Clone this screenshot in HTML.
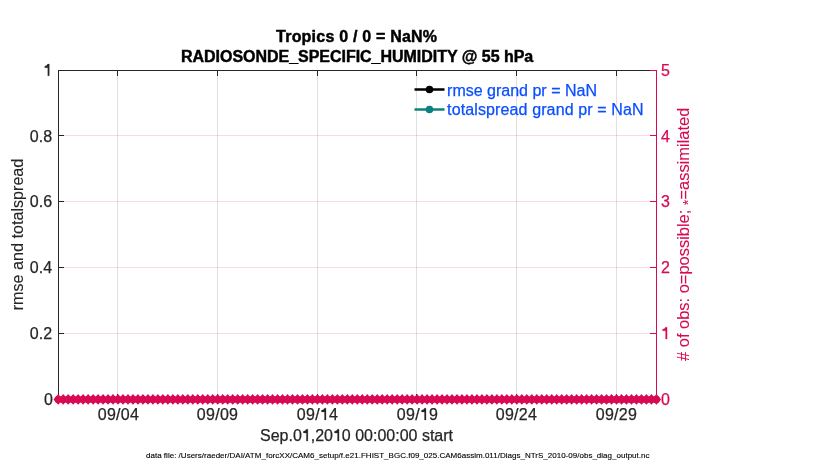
<!DOCTYPE html>
<html><head><meta charset="utf-8"><style>
html,body{margin:0;padding:0;background:#fff;width:830px;height:470px;overflow:hidden}
svg{display:block;will-change:transform}
text{font-family:"Liberation Sans", sans-serif;}
.h1{fill:transparent;stroke:transparent}
</style></head><body>
<svg width="830" height="470" viewBox="0 0 830 470">
<rect x="0" y="0" width="830" height="470" fill="#fff"/>

<line x1="117.5" y1="70" x2="117.5" y2="399" stroke="rgba(38,38,38,0.15)" stroke-width="1"/>
<line x1="217.5" y1="70" x2="217.5" y2="399" stroke="rgba(38,38,38,0.15)" stroke-width="1"/>
<line x1="317.5" y1="70" x2="317.5" y2="399" stroke="rgba(38,38,38,0.15)" stroke-width="1"/>
<line x1="416.5" y1="70" x2="416.5" y2="399" stroke="rgba(38,38,38,0.15)" stroke-width="1"/>
<line x1="516.5" y1="70" x2="516.5" y2="399" stroke="rgba(38,38,38,0.15)" stroke-width="1"/>
<line x1="616.5" y1="70" x2="616.5" y2="399" stroke="rgba(38,38,38,0.15)" stroke-width="1"/>
<line x1="58" y1="333.5" x2="656" y2="333.5" stroke="rgba(215,10,83,0.15)" stroke-width="1"/>
<line x1="58" y1="267.5" x2="656" y2="267.5" stroke="rgba(215,10,83,0.15)" stroke-width="1"/>
<line x1="58" y1="201.5" x2="656" y2="201.5" stroke="rgba(215,10,83,0.15)" stroke-width="1"/>
<line x1="58" y1="135.5" x2="656" y2="135.5" stroke="rgba(215,10,83,0.15)" stroke-width="1"/>
<line x1="58.5" y1="70" x2="58.5" y2="399.5" stroke="#262626" stroke-width="1"/>
<line x1="58" y1="70.5" x2="650" y2="70.5" stroke="#262626" stroke-width="1"/>
<line x1="58" y1="399.5" x2="656" y2="399.5" stroke="#262626" stroke-width="1"/>
<line x1="650" y1="70.5" x2="657" y2="70.5" stroke="#D70A53" stroke-width="1"/>
<line x1="656.5" y1="70" x2="656.5" y2="399.5" stroke="#D70A53" stroke-width="1"/>
<line x1="117.5" y1="70" x2="117.5" y2="76" stroke="#262626" stroke-width="1"/>
<line x1="117.5" y1="394" x2="117.5" y2="399" stroke="#262626" stroke-width="1"/>
<line x1="217.5" y1="70" x2="217.5" y2="76" stroke="#262626" stroke-width="1"/>
<line x1="217.5" y1="394" x2="217.5" y2="399" stroke="#262626" stroke-width="1"/>
<line x1="317.5" y1="70" x2="317.5" y2="76" stroke="#262626" stroke-width="1"/>
<line x1="317.5" y1="394" x2="317.5" y2="399" stroke="#262626" stroke-width="1"/>
<line x1="416.5" y1="70" x2="416.5" y2="76" stroke="#262626" stroke-width="1"/>
<line x1="416.5" y1="394" x2="416.5" y2="399" stroke="#262626" stroke-width="1"/>
<line x1="516.5" y1="70" x2="516.5" y2="76" stroke="#262626" stroke-width="1"/>
<line x1="516.5" y1="394" x2="516.5" y2="399" stroke="#262626" stroke-width="1"/>
<line x1="616.5" y1="70" x2="616.5" y2="76" stroke="#262626" stroke-width="1"/>
<line x1="616.5" y1="394" x2="616.5" y2="399" stroke="#262626" stroke-width="1"/>
<line x1="58" y1="333.5" x2="64" y2="333.5" stroke="#3A1428" stroke-width="1"/>
<line x1="58" y1="267.5" x2="64" y2="267.5" stroke="#3A1428" stroke-width="1"/>
<line x1="58" y1="201.5" x2="64" y2="201.5" stroke="#3A1428" stroke-width="1"/>
<line x1="58" y1="135.5" x2="64" y2="135.5" stroke="#3A1428" stroke-width="1"/>
<line x1="650" y1="333.5" x2="656" y2="333.5" stroke="#D70A53" stroke-width="1"/>
<line x1="650" y1="267.5" x2="656" y2="267.5" stroke="#D70A53" stroke-width="1"/>
<line x1="650" y1="201.5" x2="656" y2="201.5" stroke="#D70A53" stroke-width="1"/>
<line x1="650" y1="135.5" x2="656" y2="135.5" stroke="#D70A53" stroke-width="1"/>
<g fill="#D70A53"><path d="M53.50,399.40L58.20,394.00L62.90,399.40L58.20,404.80ZM58.48,399.40L63.19,394.00L67.89,399.40L63.19,404.80ZM63.47,399.40L68.17,394.00L72.87,399.40L68.17,404.80ZM68.45,399.40L73.16,394.00L77.86,399.40L73.16,404.80ZM73.44,399.40L78.14,394.00L82.84,399.40L78.14,404.80ZM78.42,399.40L83.12,394.00L87.83,399.40L83.12,404.80ZM83.41,399.40L88.11,394.00L92.81,399.40L88.11,404.80ZM88.39,399.40L93.09,394.00L97.80,399.40L93.09,404.80ZM93.38,399.40L98.08,394.00L102.78,399.40L98.08,404.80ZM98.36,399.40L103.06,394.00L107.77,399.40L103.06,404.80ZM103.35,399.40L108.05,394.00L112.75,399.40L108.05,404.80ZM108.33,399.40L113.03,394.00L117.73,399.40L113.03,404.80ZM113.32,399.40L118.02,394.00L122.72,399.40L118.02,404.80ZM118.31,399.40L123.01,394.00L127.71,399.40L123.01,404.80ZM123.29,399.40L127.99,394.00L132.69,399.40L127.99,404.80ZM128.28,399.40L132.98,394.00L137.68,399.40L132.98,404.80ZM133.26,399.40L137.96,394.00L142.66,399.40L137.96,404.80ZM138.25,399.40L142.94,394.00L147.64,399.40L142.94,404.80ZM143.23,399.40L147.93,394.00L152.63,399.40L147.93,404.80ZM148.22,399.40L152.92,394.00L157.62,399.40L152.92,404.80ZM153.20,399.40L157.90,394.00L162.60,399.40L157.90,404.80ZM158.19,399.40L162.88,394.00L167.58,399.40L162.88,404.80ZM163.17,399.40L167.87,394.00L172.57,399.40L167.87,404.80ZM168.16,399.40L172.86,394.00L177.56,399.40L172.86,404.80ZM173.14,399.40L177.84,394.00L182.54,399.40L177.84,404.80ZM178.13,399.40L182.83,394.00L187.53,399.40L182.83,404.80ZM183.11,399.40L187.81,394.00L192.51,399.40L187.81,404.80ZM188.10,399.40L192.80,394.00L197.50,399.40L192.80,404.80ZM193.08,399.40L197.78,394.00L202.48,399.40L197.78,404.80ZM198.06,399.40L202.76,394.00L207.46,399.40L202.76,404.80ZM203.05,399.40L207.75,394.00L212.45,399.40L207.75,404.80ZM208.04,399.40L212.74,394.00L217.44,399.40L212.74,404.80ZM213.02,399.40L217.72,394.00L222.42,399.40L217.72,404.80ZM218.01,399.40L222.71,394.00L227.41,399.40L222.71,404.80ZM222.99,399.40L227.69,394.00L232.39,399.40L227.69,404.80ZM227.98,399.40L232.68,394.00L237.38,399.40L232.68,404.80ZM232.96,399.40L237.66,394.00L242.36,399.40L237.66,404.80ZM237.95,399.40L242.65,394.00L247.35,399.40L242.65,404.80ZM242.93,399.40L247.63,394.00L252.33,399.40L247.63,404.80ZM247.92,399.40L252.62,394.00L257.31,399.40L252.62,404.80ZM252.90,399.40L257.60,394.00L262.30,399.40L257.60,404.80ZM257.89,399.40L262.59,394.00L267.29,399.40L262.59,404.80ZM262.87,399.40L267.57,394.00L272.27,399.40L267.57,404.80ZM267.86,399.40L272.56,394.00L277.25,399.40L272.56,404.80ZM272.84,399.40L277.54,394.00L282.24,399.40L277.54,404.80ZM277.83,399.40L282.53,394.00L287.23,399.40L282.53,404.80ZM282.81,399.40L287.51,394.00L292.21,399.40L287.51,404.80ZM287.80,399.40L292.50,394.00L297.19,399.40L292.50,404.80ZM292.78,399.40L297.48,394.00L302.18,399.40L297.48,404.80ZM297.77,399.40L302.47,394.00L307.17,399.40L302.47,404.80ZM302.75,399.40L307.45,394.00L312.15,399.40L307.45,404.80ZM307.74,399.40L312.44,394.00L317.13,399.40L312.44,404.80ZM312.72,399.40L317.42,394.00L322.12,399.40L317.42,404.80ZM317.71,399.40L322.41,394.00L327.11,399.40L322.41,404.80ZM322.69,399.40L327.39,394.00L332.09,399.40L327.39,404.80ZM327.68,399.40L332.38,394.00L337.07,399.40L332.38,404.80ZM332.66,399.40L337.36,394.00L342.06,399.40L337.36,404.80ZM337.65,399.40L342.35,394.00L347.05,399.40L342.35,404.80ZM342.63,399.40L347.33,394.00L352.03,399.40L347.33,404.80ZM347.62,399.40L352.31,394.00L357.01,399.40L352.31,404.80ZM352.60,399.40L357.30,394.00L362.00,399.40L357.30,404.80ZM357.59,399.40L362.29,394.00L366.99,399.40L362.29,404.80ZM362.57,399.40L367.27,394.00L371.97,399.40L367.27,404.80ZM367.56,399.40L372.25,394.00L376.95,399.40L372.25,404.80ZM372.54,399.40L377.24,394.00L381.94,399.40L377.24,404.80ZM377.53,399.40L382.23,394.00L386.93,399.40L382.23,404.80ZM382.51,399.40L387.21,394.00L391.91,399.40L387.21,404.80ZM387.50,399.40L392.19,394.00L396.89,399.40L392.19,404.80ZM392.48,399.40L397.18,394.00L401.88,399.40L397.18,404.80ZM397.47,399.40L402.17,394.00L406.87,399.40L402.17,404.80ZM402.45,399.40L407.15,394.00L411.85,399.40L407.15,404.80ZM407.44,399.40L412.13,394.00L416.83,399.40L412.13,404.80ZM412.42,399.40L417.12,394.00L421.82,399.40L417.12,404.80ZM417.41,399.40L422.11,394.00L426.81,399.40L422.11,404.80ZM422.39,399.40L427.09,394.00L431.79,399.40L427.09,404.80ZM427.38,399.40L432.07,394.00L436.77,399.40L432.07,404.80ZM432.36,399.40L437.06,394.00L441.76,399.40L437.06,404.80ZM437.35,399.40L442.05,394.00L446.75,399.40L442.05,404.80ZM442.33,399.40L447.03,394.00L451.73,399.40L447.03,404.80ZM447.31,399.40L452.01,394.00L456.71,399.40L452.01,404.80ZM452.30,399.40L457.00,394.00L461.70,399.40L457.00,404.80ZM457.29,399.40L461.99,394.00L466.69,399.40L461.99,404.80ZM462.27,399.40L466.97,394.00L471.67,399.40L466.97,404.80ZM467.26,399.40L471.96,394.00L476.66,399.40L471.96,404.80ZM472.24,399.40L476.94,394.00L481.64,399.40L476.94,404.80ZM477.23,399.40L481.93,394.00L486.62,399.40L481.93,404.80ZM482.21,399.40L486.91,394.00L491.61,399.40L486.91,404.80ZM487.20,399.40L491.90,394.00L496.60,399.40L491.90,404.80ZM492.18,399.40L496.88,394.00L501.58,399.40L496.88,404.80ZM497.17,399.40L501.87,394.00L506.56,399.40L501.87,404.80ZM502.15,399.40L506.85,394.00L511.55,399.40L506.85,404.80ZM507.14,399.40L511.84,394.00L516.54,399.40L511.84,404.80ZM512.12,399.40L516.82,394.00L521.52,399.40L516.82,404.80ZM517.11,399.40L521.81,394.00L526.51,399.40L521.81,404.80ZM522.09,399.40L526.79,394.00L531.49,399.40L526.79,404.80ZM527.08,399.40L531.78,394.00L536.48,399.40L531.78,404.80ZM532.06,399.40L536.76,394.00L541.46,399.40L536.76,404.80ZM537.04,399.40L541.75,394.00L546.45,399.40L541.75,404.80ZM542.03,399.40L546.73,394.00L551.43,399.40L546.73,404.80ZM547.01,399.40L551.72,394.00L556.42,399.40L551.72,404.80ZM552.00,399.40L556.70,394.00L561.40,399.40L556.70,404.80ZM556.99,399.40L561.69,394.00L566.39,399.40L561.69,404.80ZM561.97,399.40L566.67,394.00L571.37,399.40L566.67,404.80ZM566.96,399.40L571.66,394.00L576.36,399.40L571.66,404.80ZM571.94,399.40L576.64,394.00L581.34,399.40L576.64,404.80ZM576.93,399.40L581.63,394.00L586.33,399.40L581.63,404.80ZM581.91,399.40L586.61,394.00L591.31,399.40L586.61,404.80ZM586.89,399.40L591.60,394.00L596.30,399.40L591.60,404.80ZM591.88,399.40L596.58,394.00L601.28,399.40L596.58,404.80ZM596.87,399.40L601.57,394.00L606.27,399.40L601.57,404.80ZM601.85,399.40L606.55,394.00L611.25,399.40L606.55,404.80ZM606.84,399.40L611.54,394.00L616.24,399.40L611.54,404.80ZM611.82,399.40L616.52,394.00L621.22,399.40L616.52,404.80ZM616.81,399.40L621.51,394.00L626.21,399.40L621.51,404.80ZM621.79,399.40L626.49,394.00L631.19,399.40L626.49,404.80ZM626.78,399.40L631.48,394.00L636.18,399.40L631.48,404.80ZM631.76,399.40L636.46,394.00L641.16,399.40L636.46,404.80ZM636.75,399.40L641.45,394.00L646.15,399.40L641.45,404.80ZM641.73,399.40L646.43,394.00L651.13,399.40L646.43,404.80ZM646.72,399.40L651.42,394.00L656.12,399.40L651.42,404.80ZM651.70,399.40L656.40,394.00L661.10,399.40L656.40,404.80Z"/><circle cx="58.20" cy="399.4" r="3.6"/><circle cx="63.19" cy="399.4" r="3.6"/><circle cx="68.17" cy="399.4" r="3.6"/><circle cx="73.16" cy="399.4" r="3.6"/><circle cx="78.14" cy="399.4" r="3.6"/><circle cx="83.12" cy="399.4" r="3.6"/><circle cx="88.11" cy="399.4" r="3.6"/><circle cx="93.09" cy="399.4" r="3.6"/><circle cx="98.08" cy="399.4" r="3.6"/><circle cx="103.06" cy="399.4" r="3.6"/><circle cx="108.05" cy="399.4" r="3.6"/><circle cx="113.03" cy="399.4" r="3.6"/><circle cx="118.02" cy="399.4" r="3.6"/><circle cx="123.01" cy="399.4" r="3.6"/><circle cx="127.99" cy="399.4" r="3.6"/><circle cx="132.98" cy="399.4" r="3.6"/><circle cx="137.96" cy="399.4" r="3.6"/><circle cx="142.94" cy="399.4" r="3.6"/><circle cx="147.93" cy="399.4" r="3.6"/><circle cx="152.92" cy="399.4" r="3.6"/><circle cx="157.90" cy="399.4" r="3.6"/><circle cx="162.88" cy="399.4" r="3.6"/><circle cx="167.87" cy="399.4" r="3.6"/><circle cx="172.86" cy="399.4" r="3.6"/><circle cx="177.84" cy="399.4" r="3.6"/><circle cx="182.83" cy="399.4" r="3.6"/><circle cx="187.81" cy="399.4" r="3.6"/><circle cx="192.80" cy="399.4" r="3.6"/><circle cx="197.78" cy="399.4" r="3.6"/><circle cx="202.76" cy="399.4" r="3.6"/><circle cx="207.75" cy="399.4" r="3.6"/><circle cx="212.74" cy="399.4" r="3.6"/><circle cx="217.72" cy="399.4" r="3.6"/><circle cx="222.71" cy="399.4" r="3.6"/><circle cx="227.69" cy="399.4" r="3.6"/><circle cx="232.68" cy="399.4" r="3.6"/><circle cx="237.66" cy="399.4" r="3.6"/><circle cx="242.65" cy="399.4" r="3.6"/><circle cx="247.63" cy="399.4" r="3.6"/><circle cx="252.62" cy="399.4" r="3.6"/><circle cx="257.60" cy="399.4" r="3.6"/><circle cx="262.59" cy="399.4" r="3.6"/><circle cx="267.57" cy="399.4" r="3.6"/><circle cx="272.56" cy="399.4" r="3.6"/><circle cx="277.54" cy="399.4" r="3.6"/><circle cx="282.53" cy="399.4" r="3.6"/><circle cx="287.51" cy="399.4" r="3.6"/><circle cx="292.50" cy="399.4" r="3.6"/><circle cx="297.48" cy="399.4" r="3.6"/><circle cx="302.47" cy="399.4" r="3.6"/><circle cx="307.45" cy="399.4" r="3.6"/><circle cx="312.44" cy="399.4" r="3.6"/><circle cx="317.42" cy="399.4" r="3.6"/><circle cx="322.41" cy="399.4" r="3.6"/><circle cx="327.39" cy="399.4" r="3.6"/><circle cx="332.38" cy="399.4" r="3.6"/><circle cx="337.36" cy="399.4" r="3.6"/><circle cx="342.35" cy="399.4" r="3.6"/><circle cx="347.33" cy="399.4" r="3.6"/><circle cx="352.31" cy="399.4" r="3.6"/><circle cx="357.30" cy="399.4" r="3.6"/><circle cx="362.29" cy="399.4" r="3.6"/><circle cx="367.27" cy="399.4" r="3.6"/><circle cx="372.25" cy="399.4" r="3.6"/><circle cx="377.24" cy="399.4" r="3.6"/><circle cx="382.23" cy="399.4" r="3.6"/><circle cx="387.21" cy="399.4" r="3.6"/><circle cx="392.19" cy="399.4" r="3.6"/><circle cx="397.18" cy="399.4" r="3.6"/><circle cx="402.17" cy="399.4" r="3.6"/><circle cx="407.15" cy="399.4" r="3.6"/><circle cx="412.13" cy="399.4" r="3.6"/><circle cx="417.12" cy="399.4" r="3.6"/><circle cx="422.11" cy="399.4" r="3.6"/><circle cx="427.09" cy="399.4" r="3.6"/><circle cx="432.07" cy="399.4" r="3.6"/><circle cx="437.06" cy="399.4" r="3.6"/><circle cx="442.05" cy="399.4" r="3.6"/><circle cx="447.03" cy="399.4" r="3.6"/><circle cx="452.01" cy="399.4" r="3.6"/><circle cx="457.00" cy="399.4" r="3.6"/><circle cx="461.99" cy="399.4" r="3.6"/><circle cx="466.97" cy="399.4" r="3.6"/><circle cx="471.96" cy="399.4" r="3.6"/><circle cx="476.94" cy="399.4" r="3.6"/><circle cx="481.93" cy="399.4" r="3.6"/><circle cx="486.91" cy="399.4" r="3.6"/><circle cx="491.90" cy="399.4" r="3.6"/><circle cx="496.88" cy="399.4" r="3.6"/><circle cx="501.87" cy="399.4" r="3.6"/><circle cx="506.85" cy="399.4" r="3.6"/><circle cx="511.84" cy="399.4" r="3.6"/><circle cx="516.82" cy="399.4" r="3.6"/><circle cx="521.81" cy="399.4" r="3.6"/><circle cx="526.79" cy="399.4" r="3.6"/><circle cx="531.78" cy="399.4" r="3.6"/><circle cx="536.76" cy="399.4" r="3.6"/><circle cx="541.75" cy="399.4" r="3.6"/><circle cx="546.73" cy="399.4" r="3.6"/><circle cx="551.72" cy="399.4" r="3.6"/><circle cx="556.70" cy="399.4" r="3.6"/><circle cx="561.69" cy="399.4" r="3.6"/><circle cx="566.67" cy="399.4" r="3.6"/><circle cx="571.66" cy="399.4" r="3.6"/><circle cx="576.64" cy="399.4" r="3.6"/><circle cx="581.63" cy="399.4" r="3.6"/><circle cx="586.61" cy="399.4" r="3.6"/><circle cx="591.60" cy="399.4" r="3.6"/><circle cx="596.58" cy="399.4" r="3.6"/><circle cx="601.57" cy="399.4" r="3.6"/><circle cx="606.55" cy="399.4" r="3.6"/><circle cx="611.54" cy="399.4" r="3.6"/><circle cx="616.52" cy="399.4" r="3.6"/><circle cx="621.51" cy="399.4" r="3.6"/><circle cx="626.49" cy="399.4" r="3.6"/><circle cx="631.48" cy="399.4" r="3.6"/><circle cx="636.46" cy="399.4" r="3.6"/><circle cx="641.45" cy="399.4" r="3.6"/><circle cx="646.43" cy="399.4" r="3.6"/><circle cx="651.42" cy="399.4" r="3.6"/><circle cx="656.40" cy="399.4" r="3.6"/></g>
<text x="52.8" y="404.85" font-size="16" fill="#262626" stroke="#262626" stroke-width="0.25" text-anchor="end">0</text>
<text x="52.1" y="339.05" font-size="16" fill="#262626" stroke="#262626" stroke-width="0.25" text-anchor="end">0.2</text>
<text x="52.1" y="273.25" font-size="16" fill="#262626" stroke="#262626" stroke-width="0.25" text-anchor="end">0.4</text>
<text x="52.1" y="207.45" font-size="16" fill="#262626" stroke="#262626" stroke-width="0.25" text-anchor="end">0.6</text>
<text x="52.1" y="141.65" font-size="16" fill="#262626" stroke="#262626" stroke-width="0.25" text-anchor="end">0.8</text>
<text x="52.1" y="75.85" font-size="16" fill="#262626" stroke="#262626" stroke-width="0.25" text-anchor="end"><tspan class="h1">1</tspan></text>
<text x="661" y="404.75" font-size="16" fill="#D70A53" stroke="#D70A53" stroke-width="0.25">0</text>
<text x="661" y="338.95" font-size="16" fill="#D70A53" stroke="#D70A53" stroke-width="0.25"><tspan class="h1">1</tspan></text>
<text x="661" y="273.15" font-size="16" fill="#D70A53" stroke="#D70A53" stroke-width="0.25">2</text>
<text x="661" y="207.35" font-size="16" fill="#D70A53" stroke="#D70A53" stroke-width="0.25">3</text>
<text x="661" y="141.55" font-size="16" fill="#D70A53" stroke="#D70A53" stroke-width="0.25">4</text>
<text x="661" y="75.75" font-size="16" fill="#D70A53" stroke="#D70A53" stroke-width="0.25">5</text>
<text x="118.45" y="420" font-size="16" fill="#262626" stroke="#262626" stroke-width="0.25" text-anchor="middle" letter-spacing="0.28">09/04</text>
<text x="217.55" y="420" font-size="16" fill="#262626" stroke="#262626" stroke-width="0.25" text-anchor="middle" letter-spacing="0.28">09/09</text>
<text x="317.55" y="420" font-size="16" fill="#262626" stroke="#262626" stroke-width="0.25" text-anchor="middle" letter-spacing="0.28">09/<tspan class="h1">1</tspan>4</text>
<text x="417.55" y="420" font-size="16" fill="#262626" stroke="#262626" stroke-width="0.25" text-anchor="middle" letter-spacing="0.28">09/<tspan class="h1">1</tspan>9</text>
<text x="516.45" y="420" font-size="16" fill="#262626" stroke="#262626" stroke-width="0.25" text-anchor="middle" letter-spacing="0.28">09/24</text>
<text x="616.45" y="420" font-size="16" fill="#262626" stroke="#262626" stroke-width="0.25" text-anchor="middle" letter-spacing="0.28">09/29</text>
<text x="356.5" y="441" font-size="16" fill="#262626" stroke="#262626" stroke-width="0.25" text-anchor="middle">Sep.0<tspan class="h1">1</tspan>,20<tspan class="h1">1</tspan>0 00:00:00 start</text>
<text x="356.6" y="41.7" font-size="16" font-weight="bold" fill="#000" stroke="#000" stroke-width="0.45" text-anchor="middle" textLength="161" lengthAdjust="spacing">Tropics 0 / 0 = NaN%</text>
<text x="357.1" y="61.7" font-size="16" font-weight="bold" fill="#000" stroke="#000" stroke-width="0.45" text-anchor="middle" textLength="352.3" lengthAdjust="spacing">RADIOSONDE_SPECIFIC_HUMIDITY @ 55 hPa</text>
<text transform="translate(23.3,234.5) rotate(-90)" font-size="16.15" fill="#262626" stroke="#262626" stroke-width="0.1" text-anchor="middle">rmse and totalspread</text>
<text transform="translate(689.2,234.3) rotate(-90)" font-size="16.45" fill="#D70A53" stroke="#D70A53" stroke-width="0.08" text-anchor="middle"># of obs: o=possible; <tspan dy="3.8" font-size="14.5" stroke-width="0">*</tspan><tspan dy="-3.8">=assimilated</tspan></text>
<line x1="414.5" y1="89.5" x2="444.5" y2="89.5" stroke="#000" stroke-width="2.5"/>
<circle cx="429.5" cy="89.5" r="3.8" fill="#000"/>
<line x1="414.5" y1="109.5" x2="444.5" y2="109.5" stroke="#0F8080" stroke-width="2.5"/>
<circle cx="429.5" cy="109.5" r="3.8" fill="#0F8080"/>
<text x="447.1" y="95.7" font-size="16" fill="#0A4EFF" stroke="#0A4EFF" stroke-width="0.25">rmse grand pr = NaN</text>
<text x="447.1" y="114.5" font-size="16" fill="#0A4EFF" stroke="#0A4EFF" stroke-width="0.25" letter-spacing="0.12">totalspread grand pr = NaN</text>
<text x="146" y="457.7" font-size="8" fill="#000" stroke="#000" stroke-width="0.12" textLength="503.5" lengthAdjust="spacing">data file: /Users/raeder/DAI/ATM_forcXX/CAM6_setup/f.e21.FHIST_BGC.f09_025.CAM6assim.011/Diags_NTrS_2010-09/obs_diag_output.nc</text>
<path transform="translate(43.19,75.85)" d="M4.6,0L4.6,-8.1L1.6,-8.1L1.6,-9.7Q3.75,-9.7 4.55,-11.8L6.1,-11.8L6.1,0Z" fill="#262626" stroke="#262626" stroke-width="0.25"/>
<path transform="translate(661.00,338.95)" d="M4.6,0L4.6,-8.1L1.6,-8.1L1.6,-9.7Q3.75,-9.7 4.55,-11.8L6.1,-11.8L6.1,0Z" fill="#D70A53" stroke="#D70A53" stroke-width="0.25"/>
<path transform="translate(319.91,420.00)" d="M4.6,0L4.6,-8.1L1.6,-8.1L1.6,-9.7Q3.75,-9.7 4.55,-11.8L6.1,-11.8L6.1,0Z" fill="#262626" stroke="#262626" stroke-width="0.25"/>
<path transform="translate(419.91,420.00)" d="M4.6,0L4.6,-8.1L1.6,-8.1L1.6,-9.7Q3.75,-9.7 4.55,-11.8L6.1,-11.8L6.1,0Z" fill="#262626" stroke="#262626" stroke-width="0.25"/>
<path transform="translate(301.78,441.00)" d="M4.6,0L4.6,-8.1L1.6,-8.1L1.6,-9.7Q3.75,-9.7 4.55,-11.8L6.1,-11.8L6.1,0Z" fill="#262626" stroke="#262626" stroke-width="0.25"/>
<path transform="translate(332.94,441.00)" d="M4.6,0L4.6,-8.1L1.6,-8.1L1.6,-9.7Q3.75,-9.7 4.55,-11.8L6.1,-11.8L6.1,0Z" fill="#262626" stroke="#262626" stroke-width="0.25"/>
</svg></body></html>
